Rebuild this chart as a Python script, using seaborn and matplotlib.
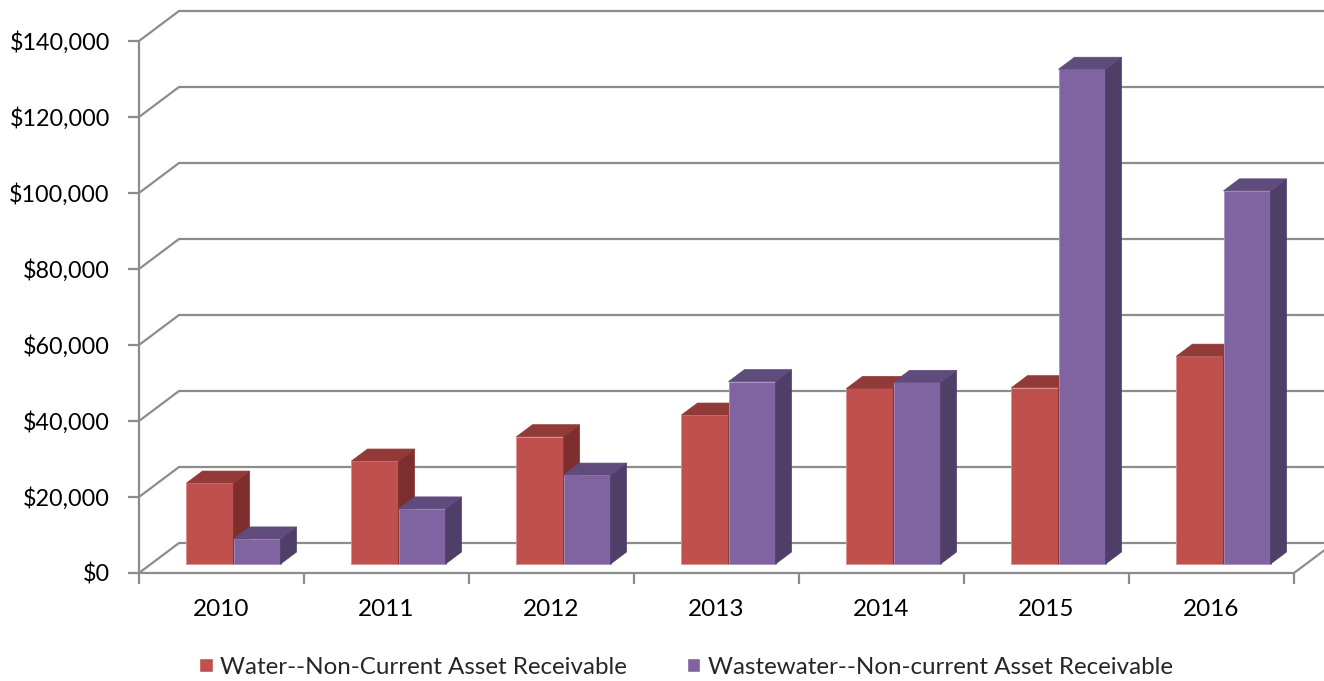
import pandas as pd
import matplotlib
matplotlib.use("Agg")
import matplotlib.pyplot as plt
import matplotlib.transforms as mtransforms
from matplotlib.patches import Polygon
from matplotlib.ticker import FuncFormatter, FixedLocator
import seaborn as sns

years = ["2010", "2011", "2012", "2013", "2014", "2015", "2016"]
water = [21300, 27100, 33500, 39200, 46200, 46400, 54700]
wastewater = [6600, 14500, 23400, 48000, 47800, 130200, 98200]
series_names = ["Water--Non-Current Asset Receivable",
                "Wastewater--Non-current Asset Receivable"]
y_ticks = [0, 20000, 40000, 60000, 80000, 100000, 120000, 140000]

front_cols = ["#C0504D", "#8064A2"]
side_cols = ["#7E2F2D", "#4F3F68"]
top_cols = ["#923A37", "#5F4B7C"]
edge_cols = ["#D9908E", "#A592BF"]
grid_col = "#8C8C8C"

df = pd.DataFrame({
    "year": years * 2,
    "value": water + wastewater,
    "series": [series_names[0]] * len(years) + [series_names[1]] * len(years),
})

sns.set_style("white")
plt.rcParams["font.family"] = ["Lato", "DejaVu Sans"]
plt.rcParams["font.size"] = 17

W, H = 1324, 681
fig = plt.figure(figsize=(W / 100, H / 100), dpi=100)
ax = fig.add_axes([139 / W, (H - 573) / H, (1294 - 139) / W, (573 - 41) / H])

sns.barplot(data=df, x="year", y="value", hue="series", palette=front_cols,
            width=0.57, gap=0, saturation=1, ax=ax, legend=True)
ax.set_xlim(-0.5, len(years) - 0.5)
ax.set_ylim(0, 140000)

# pixel -> data helpers
sx = ax.bbox.width / (len(years))
sy = ax.bbox.height / 140000.0


def dpx(dx, dy):
    return dx / sx, dy / sy


# wall / floor depth and bar placement in depth
wall_dx, wall_dy = dpx(40, 30)
bar_off_x, bar_off_y = dpx(12, 9)
depth_x, depth_y = dpx(16, 12)
x0 = -0.5
x1 = len(years) - 0.5
x_far = x0 + (W + 20 - 139) / sx

# back wall gridlines with oblique left part
for v in y_ticks:
    ax.plot([x0, x0 + wall_dx, x_far], [v, v + wall_dy, v + wall_dy],
            color=grid_col, lw=1.6, zorder=0.5, clip_on=False,
            solid_capstyle="butt")
# floor front edge with right side going back
ax.plot([x0, x1, x1 + wall_dx], [0, 0, wall_dy], color=grid_col, lw=1.6,
        zorder=0.5, clip_on=False)
# front value axis
ax.plot([x0, x0], [0, 140000], color=grid_col, lw=1.6, zorder=0.5,
        clip_on=False)

# 3D faces for every bar drawn by seaborn
off = mtransforms.ScaledTranslation(12 / 100, 9 / 100, fig.dpi_scale_trans)
n = len(years)
for i, bar in enumerate(ax.patches[:2 * n]):
    s = i // n
    z = 2 + s
    bar.set_transform(ax.transData + off)
    bar.set_zorder(z)
    bar.set_edgecolor(edge_cols[s])
    bar.set_linewidth(0.6)
    bx, bw, bh = bar.get_x(), bar.get_width(), bar.get_height()
    lx = bx + bar_off_x
    rx = bx + bw + bar_off_x
    by = bar_off_y
    ty = bh + bar_off_y
    side = Polygon([(rx, by), (rx, ty), (rx + depth_x, ty + depth_y),
                    (rx + depth_x, by + depth_y)], closed=True,
                   facecolor=side_cols[s], edgecolor=side_cols[s], lw=0.5,
                   zorder=z + 0.1, clip_on=False)
    top = Polygon([(lx, ty), (rx, ty), (rx + depth_x, ty + depth_y),
                   (lx + depth_x, ty + depth_y)], closed=True,
                  facecolor=top_cols[s], edgecolor=top_cols[s], lw=0.5,
                  zorder=z + 0.1, clip_on=False)
    ax.add_patch(side)
    ax.add_patch(top)

for sp in ax.spines.values():
    sp.set_visible(False)

ax.set_xlabel("")
ax.set_ylabel("")
ax.yaxis.set_major_locator(FixedLocator(y_ticks))
ax.yaxis.set_major_formatter(FuncFormatter(lambda v, p: f"${v:,.0f}"))
ax.tick_params(axis="y", left=True, length=8, width=1.6, color=grid_col,
               pad=13, labelsize=16.8, labelcolor="black")
ax.xaxis.set_minor_locator(FixedLocator([k - 0.5 for k in range(n + 1)]))
ax.tick_params(axis="x", which="major", bottom=False, length=0, pad=19,
               labelsize=17.5, labelcolor="black")
ax.tick_params(axis="x", which="minor", bottom=True, length=8, width=1.6,
               color=grid_col)

handles, labels = ax.get_legend_handles_labels()
ax.legend_.remove()
fig.legend(handles[:2], labels[:2], loc="center",
           bbox_to_anchor=(686 / W, 14 / H), ncol=2, frameon=False,
           fontsize=17.4, handlelength=0.55, handleheight=0.55,
           handletextpad=0.3, columnspacing=2.5, borderpad=0)

fig.savefig("out.png", dpi=100)
